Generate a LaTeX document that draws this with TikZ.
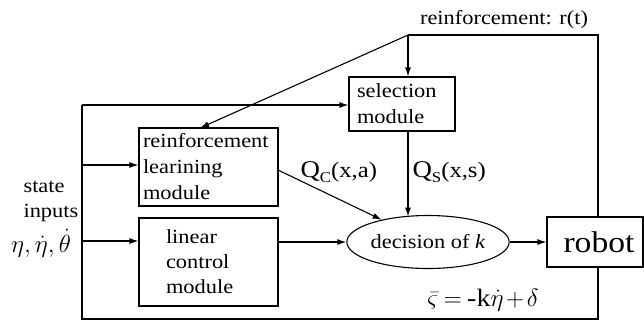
\documentclass[tikz,border=0pt]{standalone}
\usepackage{fontspec}
\setmainfont[FakeStretch=1.12]{Liberation Serif}
\usetikzlibrary{arrows.meta,shapes.geometric}
\begin{document}
\begin{tikzpicture}[x=1pt,y=-1pt,
  line width=1.1pt,
  arr/.style={-{Latex[length=9pt,width=6pt]}},
  box/.style={draw,rectangle,inner sep=0pt,align=left},
  txt/.style={inner sep=0pt},
  f20/.style={font=\fontsize{20}{26}\selectfont}]
\useasboundingbox (0,0) rectangle (644,322);

% modules
\node[box,f20,minimum width=139pt,minimum height=78pt,text width=131pt] (rl) at (208.5,167)
  {reinforcement\\learining\\module};
\node[box,f20,minimum width=106pt,minimum height=54pt,text width=90pt] (sel) at (402,104)
  {selection\\module};
\node[box,font=\fontsize{20}{25}\selectfont,minimum width=139pt,minimum height=88pt,text width=107pt] (lin) at (208.5,262)
  {\hspace*{11pt}linear\\\hspace*{11pt}control\\\hspace*{11pt}module};
\node[draw,ellipse,inner sep=0pt,minimum width=141pt,minimum height=53pt,font=\fontsize{20}{24}\selectfont] (dec) at (428,242)
  {decision of \textit{k}};
\node[draw,rectangle,inner sep=0pt,minimum width=96pt,minimum height=50pt,font=\fontsize{30}{30}\selectfont] (robot) at (595,242)
  {\hspace*{8pt}robot};

% texts
\node[txt,f20,anchor=base] (rlab) at (504,24) {reinforcement: r(t)};
\node[txt,f20,anchor=base west] (st) at (23,192) {state};
\node[txt,f20,anchor=base west] (inp) at (23,217) {inputs};
\node[txt,font=\fontsize{30}{30}\selectfont,anchor=base] (eta) at (41,252) {$\eta,\dot\eta,\dot\theta$};
\node[txt,anchor=base west] (qc) at (300,177)
  {{\fontsize{24}{24}\selectfont Q}\raisebox{-5pt}{\fontsize{15}{15}\selectfont C}{\fontsize{22}{22}\selectfont (x,a)}};
\node[txt,anchor=base west] (qs) at (412,177)
  {{\fontsize{24}{24}\selectfont Q}\raisebox{-5pt}{\fontsize{15}{15}\selectfont S}{\fontsize{22}{22}\selectfont (x,s)}};
\node[txt,font=\fontsize{36}{36}\selectfont,anchor=base] (eq) at (483,306)
  {\thickmuskip=4mu\medmuskip=2mu$\bar{\varsigma} = \mbox{\fontsize{25}{25}\selectfont -k}\dot{\eta} + \delta$};

% coordinates of the loop
\coordinate (rtop) at (408,35);
\coordinate (rt) at (598,35);
\coordinate (br) at (598,319);
\coordinate (bl) at (82,319);
\coordinate (tl) at (82,105);
\coordinate (a1) at (82,165);
\coordinate (a2) at (82,241);
\coordinate (rlin) at (200,128);
\coordinate (decin) at (408,216.5);
\coordinate (qcs) at (278,170);

% connectors
\draw (rtop) -- (rt) -- (rt |- robot.north);
\draw[arr] (rtop) -- (rtop |- sel.north);
\draw[arr] (rtop) -- (rlin);
\draw (robot.south -| br) -- (br) -- (bl) -- (tl);
\draw[arr] (tl) -- (tl -| sel.west);
\draw[arr] (a1) -- (a1 -| rl.west);
\draw[arr] (a2) -- (a2 -| lin.west);
\draw[arr] (rtop |- sel.south) -- (decin);
\draw[arr] (qcs) -- (dec);
\draw[arr] (dec.west -| lin.east) -- (dec.west);
\draw[arr] (dec.east) -- (robot.west);
\end{tikzpicture}
\end{document}
